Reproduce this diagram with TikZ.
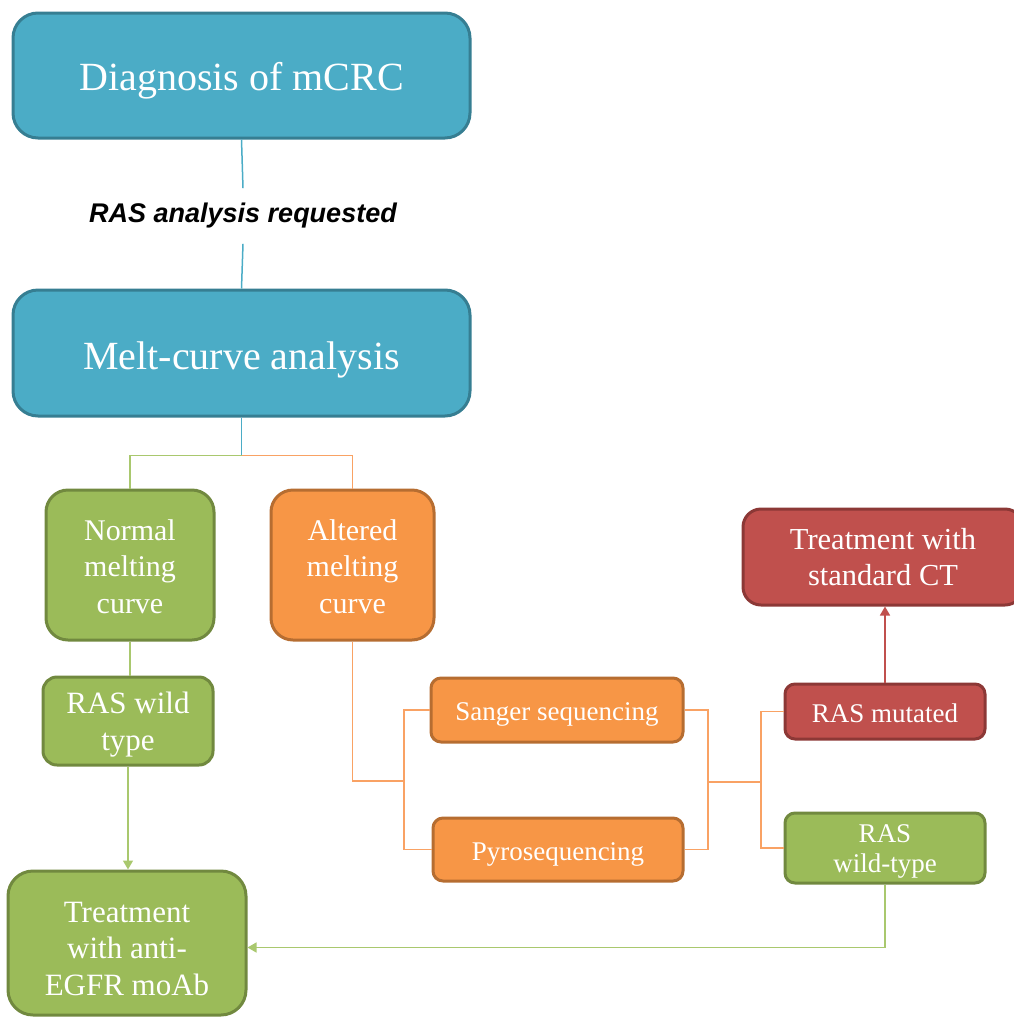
\documentclass[tikz,border=0pt]{standalone}
\usepackage{fontspec}
\setmainfont{Liberation Serif}
\newfontfamily\labelfont{Liberation Sans}
\usetikzlibrary{arrows.meta,calc}
\definecolor{tealF}{HTML}{4BACC6}
\definecolor{tealD}{HTML}{367E92}
\definecolor{greenF}{HTML}{9BBB59}
\definecolor{greenD}{HTML}{71893F}
\definecolor{greenL}{HTML}{A9C86E}
\definecolor{orangeF}{HTML}{F79646}
\definecolor{orangeD}{HTML}{B66D31}
\definecolor{orangeL}{HTML}{F9A264}
\definecolor{redF}{HTML}{C0504D}
\definecolor{redD}{HTML}{8C3836}
\tikzset{
  flow/.style={draw, line width=3pt, align=center, text=white, inner sep=0pt, text depth=0pt},
  tealbox/.style={flow, fill=tealF, draw=tealD, rounded corners=25pt},
  greenbox/.style={flow, fill=greenF, draw=greenD},
  orangebox/.style={flow, fill=orangeF, draw=orangeD},
  redbox/.style={flow, fill=redF, draw=redD},
  conn/.style={line width=1.5pt},
  tipped/.style={-{Triangle[length=9pt,width=10pt]}}
}
\begin{document}
\begin{tikzpicture}[x=1pt,y=-1pt]
\useasboundingbox (0,0) rectangle (1014,1018);
% top boxes
\node[tealbox, minimum width=457pt, minimum height=125pt, text height=29pt, font=\fontsize{40}{48}\selectfont] (diag) at (241.5,75.5) {Diagnosis of mCRC};
\node[tealbox, minimum width=457pt, minimum height=126pt, text height=32pt, font=\fontsize{40}{48}\selectfont] (melt) at (241.5,353) {Melt-curve analysis};
\node[font=\labelfont\bfseries\itshape\fontsize{27}{32}\selectfont, inner xsep=0pt, inner ysep=15pt] (req) at (243,216) {RAS analysis requested};
% second level
\node[greenbox, rounded corners=22pt, minimum width=168pt, minimum height=150pt, text height=96pt, font=\fontsize{30}{36.5}\selectfont] (normal) at (130,565) {Normal\\melting\\curve};
\node[orangebox, rounded corners=22pt, minimum width=163pt, minimum height=150pt, text height=96pt, font=\fontsize{30}{36.5}\selectfont] (altered) at (352.5,565) {Altered\\melting\\curve};
\node[greenbox, rounded corners=14pt, minimum width=170pt, minimum height=88pt, text height=58pt, font=\fontsize{31}{37}\selectfont] (rwt) at (128,721) {RAS wild\\type};
\node[greenbox, rounded corners=25pt, minimum width=238pt, minimum height=144pt, text height=104pt, font=\fontsize{31}{36.5}\selectfont] (treat) at (127,943) {Treatment\\with anti-\\EGFR moAb};
% sequencing
\node[orangebox, rounded corners=10pt, minimum width=252pt, minimum height=64pt, text height=20pt, font=\fontsize{27}{32}\selectfont] (sanger) at (557,710) {Sanger sequencing};
\node[orangebox, rounded corners=10pt, minimum width=250pt, minimum height=63pt, text height=21pt, font=\fontsize{27}{32}\selectfont] (pyro) at (558,849.5) {Pyrosequencing};
% results
\node[redbox, rounded corners=10pt, minimum width=200pt, minimum height=55pt, text height=21pt, font=\fontsize{27}{32}\selectfont] (mut) at (885,711.5) {RAS mutated};
\node[greenbox, rounded corners=10pt, minimum width=200pt, minimum height=70pt, text height=48pt, font=\fontsize{27}{30}\selectfont] (wt) at (885,848) {RAS\\wild-type};
\node[redbox, rounded corners=18pt, minimum width=280pt, minimum height=96pt, text height=56pt, font=\fontsize{30.5}{36}\selectfont] (ct) at (883,557) {Treatment with\\standard CT};
% connectors
\draw[conn, tealF] (diag.south) -- (req.north);
\draw[conn, tealF] (req.south) -- (melt.north);
\draw[conn, tealF] (melt.south) -- ++(0,38) coordinate (j1);
\draw[conn, greenL] (j1) -| (normal.north);
\draw[conn, orangeL] (j1) -| (altered.north);
\draw[conn, greenL] (normal.south) -- (normal.south |- rwt.north);
\draw[conn, greenL, tipped] (rwt.south) -- (rwt.south |- treat.north);
\coordinate (a1) at (404,781);
\draw[conn, orangeL] (altered.south) |- (a1);
\draw[conn, orangeL] (sanger.west) -| (a1) |- (pyro.west);
\coordinate (b1) at (708,782);
\coordinate (c1) at (761,782);
\draw[conn, orangeL] (sanger.east) -| (b1) |- (pyro.east);
\draw[conn, orangeL] (b1) -- (c1);
\draw[conn, orangeL] (mut.west) -| (c1) |- (wt.west);
\draw[conn, redF, tipped] (mut.north) -- (mut.north |- ct.south);
\draw[conn, greenL] (wt.south) -- ++(0,63) coordinate (g1);
\draw[conn, greenL, tipped] (g1) -- (g1 -| treat.east);
\end{tikzpicture}
\end{document}
